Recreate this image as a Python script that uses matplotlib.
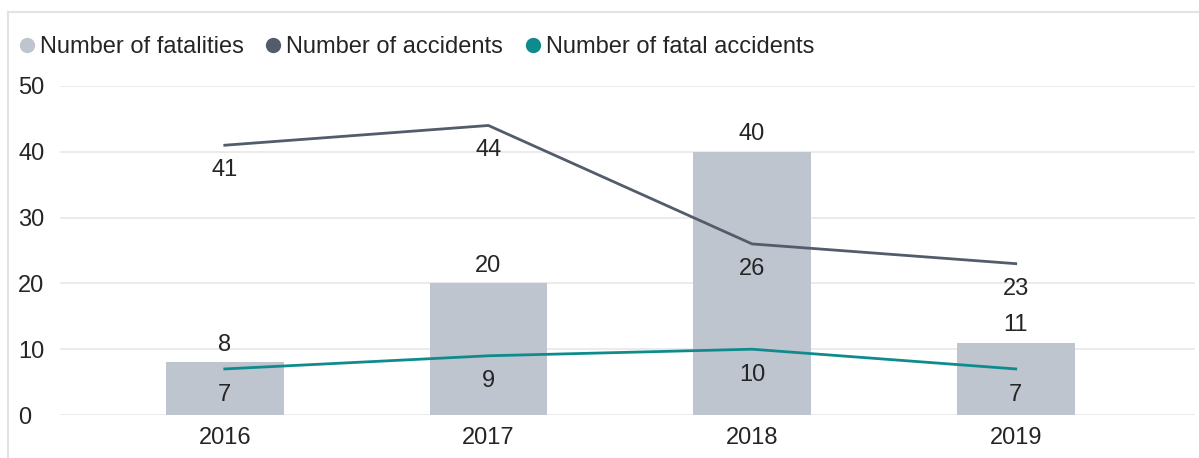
import matplotlib.pyplot as plt
from matplotlib.lines import Line2D
import numpy as np

plt.rcParams['font.family'] = ['Liberation Sans', 'DejaVu Sans']

years = ["2016", "2017", "2018", "2019"]
fatalities = [8, 20, 40, 11]
accidents = [41, 44, 26, 23]
fatal_accidents = [7, 9, 10, 7]

bar_color = "#bfc5cf"
acc_color = "#525c6b"
fatal_color = "#0f8b8d"
text_color = "#252525"

fig = plt.figure(figsize=(11.99, 4.58), dpi=100)
ax = fig.add_axes([60 / 1199, 1 - 415 / 458, 1135 / 1199, 329 / 458])

x = np.arange(len(years))
ax.bar(x, fatalities, width=0.447, color=bar_color, zorder=2)
ax.plot(x, accidents, color=acc_color, lw=2, zorder=3)
ax.plot(x, fatal_accidents, color=fatal_color, lw=2, zorder=3)

fs = 17
for i, v in enumerate(fatalities):
    ax.annotate(str(v), (i, v), xytext=(0, 12.5), textcoords="offset points",
                ha="center", va="center", fontsize=fs, color=text_color)
for i, v in enumerate(accidents):
    ax.annotate(str(v), (i, v), xytext=(0, -18), textcoords="offset points",
                ha="center", va="center", fontsize=fs, color=text_color)
for i, v in enumerate(fatal_accidents):
    ax.annotate(str(v), (i, v), xytext=(0, -18.5), textcoords="offset points",
                ha="center", va="center", fontsize=fs, color=text_color)

ax.set_xlim(-0.625, 3.68)
ax.set_ylim(0, 50)
ax.set_yticks([0, 10, 20, 30, 40, 50])
ax.set_xticks(x)
ax.set_xticklabels(years)
ax.tick_params(axis="both", length=0, labelsize=fs, labelcolor=text_color)
ax.tick_params(axis="y", pad=30)
ax.tick_params(axis="x", pad=9)
for lab in ax.get_yticklabels():
    lab.set_horizontalalignment("left")
ax.grid(axis="y", color="#e8e8e8", lw=1.2, zorder=0)
for s in ax.spines.values():
    s.set_visible(False)

# outer border lines (top and left)
fig.add_artist(Line2D([8 / 1199, 1], [1 - 12 / 458, 1 - 12 / 458], color="#e3e3e3", lw=1.5))
fig.add_artist(Line2D([8 / 1199, 8 / 1199], [0, 1 - 12 / 458], color="#e3e3e3", lw=1.5))

handles = [
    Line2D([], [], marker="o", ls="", color=bar_color, markersize=10),
    Line2D([], [], marker="o", ls="", color=acc_color, markersize=10),
    Line2D([], [], marker="o", ls="", color=fatal_color, markersize=10),
]
fig.legend(handles, ["Number of fatalities", "Number of accidents", "Number of fatal accidents"],
           loc="center left", bbox_to_anchor=(-6 / 1199, 1 - 47 / 458), ncol=3, frameon=False,
           fontsize=fs, handlelength=1.0, handletextpad=0.05, columnspacing=0.75,
           labelcolor=text_color)

fig.savefig("out.png", dpi=100)
